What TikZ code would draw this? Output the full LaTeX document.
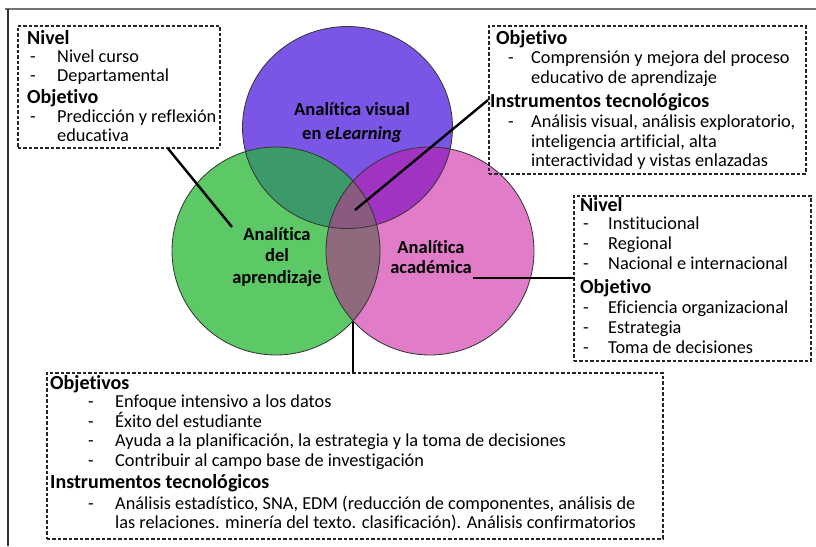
\documentclass[tikz,border=0pt]{standalone}
\usepackage{fontspec}
\setmainfont[Ligatures=NoCommon]{Carlito}
\usetikzlibrary{calc,shapes.geometric}
\definecolor{cpur}{RGB}{123,86,230}
\definecolor{cgre}{RGB}{92,200,102}
\definecolor{cpin}{RGB}{224,124,200}
\definecolor{cgp}{RGB}{60,154,106}
\definecolor{cpp}{RGB}{161,51,195}
\definecolor{cgk}{RGB}{143,106,124}
\definecolor{call}{RGB}{138,90,128}
\begin{document}
\begin{tikzpicture}[x=1pt,y=-1pt,
  dashbox/.style={draw=black!85, line width=1.5pt, dash pattern=on 3.5pt off 2pt, rectangle, inner sep=0pt, anchor=north west},
  hd/.style={anchor=base west, inner sep=0pt, font=\bfseries\fontsize{20}{22}\selectfont},
  tx/.style={anchor=base west, inner sep=0pt, font=\fontsize{18.3}{20}\selectfont},
  lab/.style={align=center, inner sep=0pt, font=\bfseries\fontsize{18.5}{21.5}\selectfont},
  conn/.style={line width=2.4pt, black},
  ring/.style={draw=black!80, line width=0.8pt, inner sep=0pt}
]
\useasboundingbox (0,0) rectangle (816,546);
\fill[white] (0,0) rectangle (816,546);
\draw[black!55, line width=1.3pt] (5,9) -- (816,9);
\draw[black!80, line width=1.1pt] (8,9) -- (8,546);

% circle fills
\fill[cpur] (347.5,127.5) ellipse [x radius=105, y radius=101];
\fill[cgre] (276,251) circle [radius=104];
\fill[cpin] (430,251) circle [radius=104];
\begin{scope}
  \clip (347.5,127.5) ellipse [x radius=105, y radius=101];
  \fill[cgp] (276,251) circle [radius=104];
  \fill[cpp] (430,251) circle [radius=104];
\end{scope}
\begin{scope}
  \clip (276,251) circle [radius=104];
  \fill[cgk] (430,251) circle [radius=104];
  \clip (430,251) circle [radius=104];
  \fill[call] (347.5,127.5) ellipse [x radius=105, y radius=101];
\end{scope}
% outlines
\node[ring, ellipse, minimum width=210pt, minimum height=202pt] (cv) at (347.5,127.5) {};
\node[ring, circle, minimum size=208pt] (cg) at (276,251) {};
\node[ring, circle, minimum size=208pt] (ck) at (430,251) {};

% circle labels
\node[lab, font=\bfseries\fontsize{18.5}{24}\selectfont] (lv) at (352,123) {Analítica visual\\en \textit{eLearning}};
\node[lab] (lg) at (277,257) {Analítica\\del\\aprendizaje};
\node[lab, font=\bfseries\fontsize{18.5}{20}\selectfont] (lk) at (431,257) {Analítica\\académica};

% boxes
\node[dashbox, minimum width=202pt, minimum height=122pt] (bl) at (17,25) {};
\node[dashbox, minimum width=317pt, minimum height=148pt] (btr) at (488,25) {};
\node[dashbox, minimum width=237pt, minimum height=165pt] (br) at (573,195) {};
\node[dashbox, minimum width=616pt, minimum height=166pt] (bb) at (46,372) {};

% left box text
\node[hd] (t1) at (27,44) {Nivel};
\node[tx] at (30,62) {-}; \node[tx] at (57,62) {Nivel curso};
\node[tx] at (30,81) {-}; \node[tx] at (57,81) {Departamental};
\node[hd] at (27,103) {Objetivo};
\node[tx] at (30,122) {-}; \node[tx] at (57,122) {Predicción y reflexión};
\node[tx] at (57,141) {educativa};

% top right box text
\node[hd] at (496,44) {Objetivo};
\node[tx] at (508,63) {-}; \node[tx] at (531,63) {Comprensión y mejora del proceso};
\node[tx] at (531,83) {educativo de aprendizaje};
\node[hd] at (490,107) {Instrumentos tecnológicos};
\node[tx] at (508,127) {-}; \node[tx] at (531,127) {Análisis visual, análisis exploratorio,};
\node[tx] at (531,147) {inteligencia artificial, alta};
\node[tx] at (531,166) {interactividad y vistas enlazadas};

% right box text
\node[hd] at (580,211) {Nivel};
\node[tx] at (583,229) {-}; \node[tx] at (608,229) {Institucional};
\node[tx] at (583,249) {-}; \node[tx] at (608,249) {Regional};
\node[tx] at (583,269) {-}; \node[tx] at (608,269) {Nacional e internacional};
\node[hd] at (580,293) {Objetivo};
\node[tx] at (583,313) {-}; \node[tx] at (608,313) {Eficiencia organizacional};
\node[tx] at (583,333) {-}; \node[tx] at (608,333) {Estrategia};
\node[tx] at (583,353) {-}; \node[tx] at (608,353) {Toma de decisiones};

% bottom box text
\node[hd] at (50,389) {Objetivos};
\node[tx] at (88,407) {-}; \node[tx] at (115,407) {Enfoque intensivo a los datos};
\node[tx] at (88,427) {-}; \node[tx] at (115,427) {Éxito del estudiante};
\node[tx] at (88,446) {-}; \node[tx] at (115,446) {Ayuda a la planificación, la estrategia y la toma de decisiones};
\node[tx] at (88,466) {-}; \node[tx] at (115,466) {Contribuir al campo base de investigación};
\node[hd] at (50,488) {Instrumentos tecnológicos};
\node[tx] at (88,509) {-}; \node[tx] at (115,509) {Análisis estadístico, SNA, EDM (reducción de componentes, análisis de};
\node[tx] at (115,528) {las relaciones. minería del texto. clasificación). Análisis confirmatorios};

% connector end points
\coordinate (eg) at (232,227);
\coordinate (ev) at (355,210);
\coordinate (ek) at (473,278);
\coordinate (eb) at (353,322);
\draw[conn] ($(bl.south west)+(151,0)$) -- (eg);
\draw[conn] ($(btr.north west)+(0,75)$) -- (ev);
\draw[conn] (br.west |- ek) -- (ek);
\draw[conn] (bb.north -| eb) -- (eb);
\end{tikzpicture}
\end{document}
